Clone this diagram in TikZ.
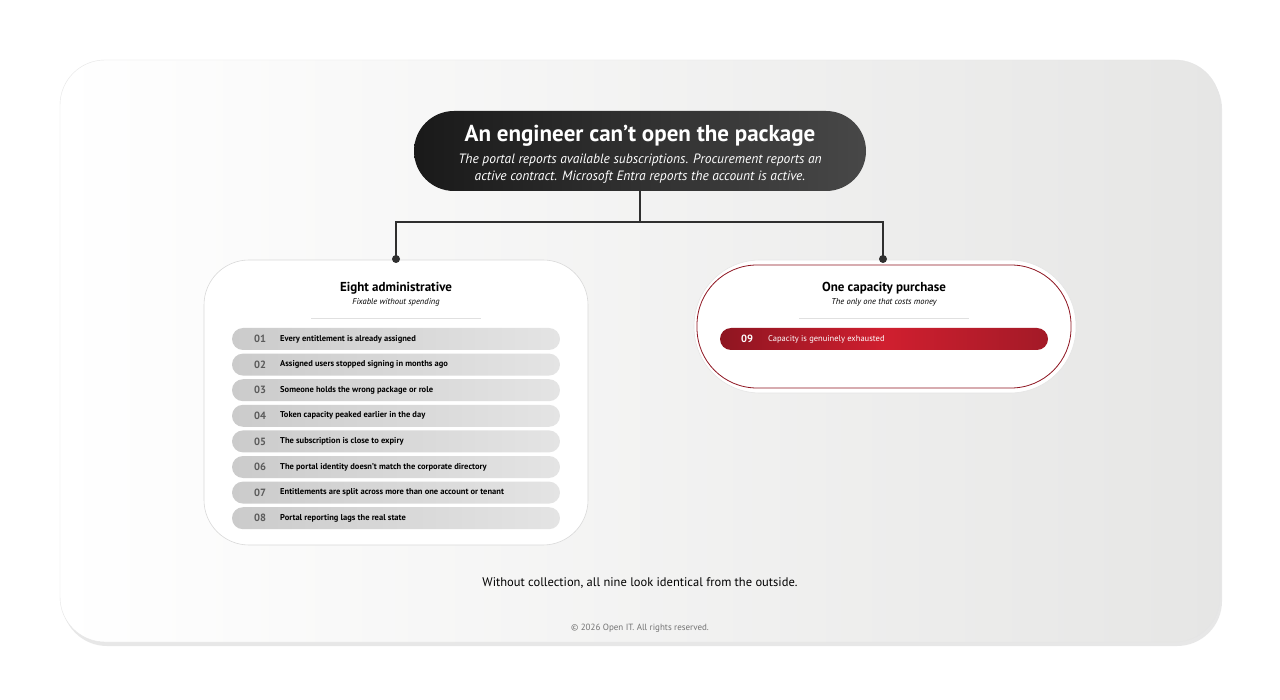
\documentclass[tikz,border=0pt]{standalone}
\usepackage{fontspec}
\setmainfont{PT Sans}
\usetikzlibrary{positioning,shadows,calc}

\definecolor{cardbg}{HTML}{E6E6E5}
\definecolor{darkline}{HTML}{2F2F2F}
\definecolor{rowgray}{HTML}{CBCBCB}
\definecolor{rowlight}{HTML}{E4E4E4}
\definecolor{numgray}{HTML}{5A5A5A}
\definecolor{redA}{HTML}{8E1521}
\definecolor{redB}{HTML}{D01F2F}
\definecolor{redC}{HTML}{A31A27}

\newcommand{\apo}{{\char"0027}}

\tikzset{
  box/.style={draw=#1, fill=white, line width=0.6pt},
  row/.style={rounded corners=11pt, minimum width=328pt, minimum height=22pt,
    left color=rowgray, right color=rowlight, draw=none, inner sep=0pt},
  redrow/.style={rounded corners=11pt, minimum width=328pt, minimum height=22pt,
    left color=redA, right color=redC, middle color=redB, draw=none, inner sep=0pt},
  num/.style={font=\bfseries\fontsize{10.5}{12}\selectfont, text=numgray, inner sep=0pt},
  item/.style={font=\fontsize{8.5}{10}\selectfont\bfseries, anchor=west, inner sep=0pt},
  head/.style={font=\bfseries\fontsize{13}{15}\selectfont, inner sep=0pt},
  sub/.style={font=\itshape\fontsize{8.5}{10}\selectfont, inner sep=0pt},
  dot/.style={circle, fill=darkline, inner sep=0pt, minimum size=8pt},
}

\begin{document}
\begin{tikzpicture}[x=1pt,y=-1pt]

    \useasboundingbox (0,0) rectangle (1280,700);
    \fill[white] (0,0) rectangle (1280,700);

    % Card
    \fill[black!18, opacity=0.5, rounded corners=45pt] (62,64) rectangle (1222,646);
    \shade[shading angle=-60, left color=white, right color=cardbg, draw=black!10, rounded corners=45pt]
      (60,60) rectangle (1220,642);

    % Title
    \node [rounded corners=40pt, minimum width=452pt, minimum height=80pt,
      left color=black!90, right color=black!72, inner sep=0pt] (title) at (640,151) {};
    \node [head, font=\bfseries\fontsize{23}{26}\selectfont, text=white] (titletext) at (640,136)
      {An engineer can\apo t open the package};
    \node [sub, font=\itshape\fontsize{13.5}{17}\selectfont, text=white, align=center] (titlesub) at (640,168.5)
      {The portal reports available subscriptions. Procurement reports an\\
       active contract. Microsoft Entra reports the account is active.};

    % Left box
    \node [box=black!15, rounded corners=45pt, minimum width=384pt, minimum height=285pt] (admin) at (396,402.5) {};
    \node [dot] (dotL) at (396,259) {};
    \node [head] (adminhead) at (396,288) {Eight administrative};
    \node [sub] (adminsub) at (396,302) {Fixable without spending};
    \draw[black!12, line width=1pt] (311,319) -- (481,319);

    \foreach \i/\t [count=\k from 0] in {
      01/Every entitlement is already assigned,
      02/Assigned users stopped signing in months ago,
      03/Someone holds the wrong package or role,
      04/Token capacity peaked earlier in the day,
      05/The subscription is close to expiry,
      06/The portal identity doesn\apo t match the corporate directory,
      07/Entitlements are split across more than one account or tenant,
      08/Portal reporting lags the real state} {
      \node [row] (row\i) at (396,339+25.6*\k) {};
      \node [num] (num\i) at (260,339+25.6*\k) {\i};
      \node [item] (item\i) at (280,339+25.6*\k) {\t};
    }

    % Right box
    \node [box=black!10, rounded corners=66pt, minimum width=382pt, minimum height=133pt] (buy) at (885,326.5) {};
    \node [draw=redA, line width=0.8pt, rounded corners=60pt, minimum width=374pt, minimum height=123pt] (buyin) at (884,326.5) {};
    \node [dot] (dotR) at (883,259) {};
    \node [head] (buyhead) at (884,288) {One capacity purchase};
    \node [sub] (buysub) at (884,302) {The only one that costs money};
    \draw[black!12, line width=1pt] (799,319) -- (969,319);
    \node [redrow] (row09) at (884,339) {};
    \node [num, text=white] (num09) at (747,339) {09};
    \node [item, text=white, font=\fontsize{8.5}{10}\selectfont] (item09) at (768,339) {Capacity is genuinely exhausted};

    % Connector
    \draw[darkline, line width=2.6pt] (title.south) -- ++(0,31) coordinate (fork);
    \draw[darkline, line width=2.6pt] (dotL.center) |- (fork) -| (dotR.center);

    % Footer
    \node [font=\fontsize{12.5}{15}\selectfont, inner sep=0pt] (note) at (640,583)
      {Without collection, all nine look identical from the outside.};
    \node [font=\fontsize{9}{11}\selectfont, text=black!55, inner sep=0pt] (copy) at (640,628)
      {© 2026 Open IT. All rights reserved.};

\end{tikzpicture}
\end{document}
